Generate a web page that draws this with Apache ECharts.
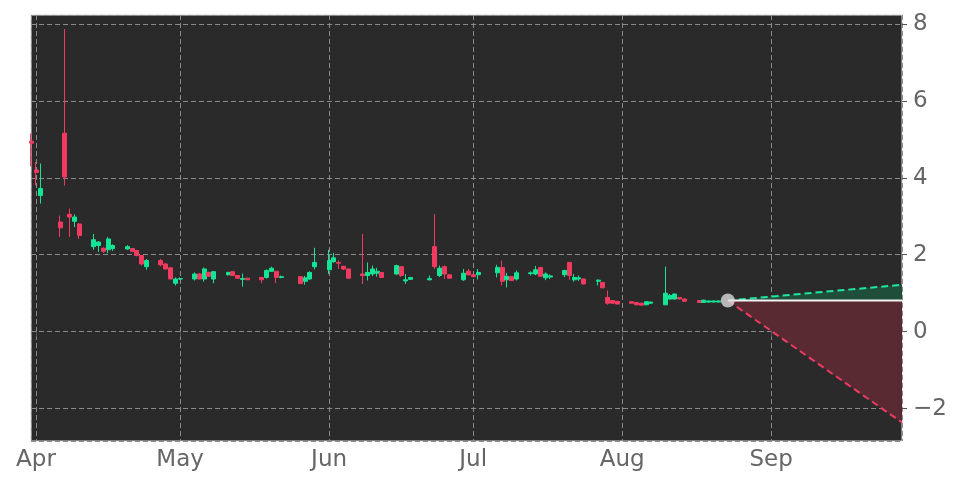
<!DOCTYPE html>
<html>
<head>
<meta charset="utf-8">
<script src="https://cdn.jsdelivr.net/npm/echarts@6/dist/echarts.min.js"></script>
<style>
    html, body {margin: 0; padding: 0; background: #fff;}
    #chart {width: 972px; height: 486px;}
</style>
</head>
<body>
<div id="chart"></div>
<script>
// daily candles
const dates = [
    '2026-03-31', '2026-04-01', '2026-04-02', '2026-04-06', '2026-04-07', '2026-04-08', '2026-04-09', '2026-04-10',
    '2026-04-13', '2026-04-14', '2026-04-15', '2026-04-16', '2026-04-17',
    '2026-04-20', '2026-04-21', '2026-04-22', '2026-04-23', '2026-04-24',
    '2026-04-27', '2026-04-28', '2026-04-29', '2026-04-30', '2026-05-01',
    '2026-05-04', '2026-05-05', '2026-05-06', '2026-05-07', '2026-05-08',
    '2026-05-11', '2026-05-12', '2026-05-13', '2026-05-14', '2026-05-15',
    '2026-05-18', '2026-05-19', '2026-05-20', '2026-05-21', '2026-05-22',
    '2026-05-26', '2026-05-27', '2026-05-28', '2026-05-29',
    '2026-06-01', '2026-06-02', '2026-06-03', '2026-06-04', '2026-06-05',
    '2026-06-08', '2026-06-09', '2026-06-10', '2026-06-11', '2026-06-12',
    '2026-06-15', '2026-06-16', '2026-06-17', '2026-06-18',
    '2026-06-22', '2026-06-23', '2026-06-24', '2026-06-25', '2026-06-26',
    '2026-06-29', '2026-06-30', '2026-07-01', '2026-07-02',
    '2026-07-06', '2026-07-07', '2026-07-08', '2026-07-09', '2026-07-10',
    '2026-07-13', '2026-07-14', '2026-07-15', '2026-07-16', '2026-07-17',
    '2026-07-20', '2026-07-21', '2026-07-22', '2026-07-23', '2026-07-24',
    '2026-07-27', '2026-07-28', '2026-07-29', '2026-07-30', '2026-07-31',
    '2026-08-03', '2026-08-04', '2026-08-05', '2026-08-06', '2026-08-07',
    '2026-08-10', '2026-08-11', '2026-08-12', '2026-08-13', '2026-08-14',
    '2026-08-17', '2026-08-18', '2026-08-19', '2026-08-20', '2026-08-21'
];
const opens = [
    4.95, 4.20, 3.54, 2.85, 5.16, 3.05, 2.87, 2.80,
    2.21, 2.24, 2.17, 2.13, 2.16,
    2.15, 2.16, 2.11, 1.98, 1.69,
    1.85, 1.76, 1.66, 1.26, 1.37,
    1.37, 1.50, 1.37, 1.54, 1.37,
    1.48, 1.56, 1.46, 1.36, 1.39,
    1.41, 1.41, 1.57, 1.57, 1.41,
    1.43, 1.31, 1.37, 1.69,
    1.61, 1.82, 1.80, 1.70, 1.63,
    1.50, 1.46, 1.50, 1.52, 1.54,
    1.50, 1.69, 1.32, 1.36,
    1.35, 2.21, 1.46, 1.69, 1.48,
    1.35, 1.57, 1.48, 1.48,
    1.53, 1.67, 1.35, 1.43, 1.37,
    1.51, 1.50, 1.67, 1.40, 1.42,
    1.48, 1.80, 1.35, 1.37, 1.37,
    1.31, 1.28, 0.89, 0.81, 0.79,
    0.78, 0.76, 0.74, 0.70, 0.74,
    0.70, 0.85, 0.85, 0.89, 0.85,
    0.81, 0.76, 0.77, 0.77, 0.77
];
const closes = [
    4.90, 4.14, 3.72, 2.70, 4.02, 2.98, 2.98, 2.50,
    2.39, 2.33, 2.09, 2.41, 2.24,
    2.21, 2.09, 1.98, 1.76, 1.85,
    1.74, 1.63, 1.37, 1.37, 1.38,
    1.50, 1.37, 1.63, 1.44, 1.56,
    1.54, 1.46, 1.39, 1.38, 1.35,
    1.35, 1.59, 1.65, 1.41, 1.43,
    1.25, 1.40, 1.54, 1.80,
    1.85, 1.92, 1.78, 1.63, 1.39,
    1.46, 1.54, 1.63, 1.57, 1.41,
    1.72, 1.46, 1.35, 1.41,
    1.38, 1.69, 1.65, 1.50, 1.39,
    1.52, 1.48, 1.43, 1.54,
    1.67, 1.31, 1.44, 1.33, 1.53,
    1.53, 1.61, 1.44, 1.50, 1.45,
    1.59, 1.46, 1.41, 1.40, 1.24,
    1.34, 1.14, 0.74, 0.74, 0.72,
    0.74, 0.70, 0.69, 0.78, 0.77,
    1.00, 0.94, 0.98, 0.85, 0.79,
    0.76, 0.82, 0.80, 0.80, 0.80
];
const lows = [
    4.30, 3.80, 3.33, 2.46, 3.80, 2.46, 2.72, 2.41,
    2.13, 2.07, 2.05, 2.04, 2.10,
    2.13, 2.07, 1.96, 1.72, 1.61,
    1.70, 1.62, 1.36, 1.20, 1.35,
    1.33, 1.36, 1.30, 1.42, 1.26,
    1.46, 1.45, 1.38, 1.17, 1.34,
    1.26, 1.38, 1.55, 1.26, 1.39,
    1.24, 1.22, 1.35, 1.62,
    1.50, 1.79, 1.63, 1.60, 1.38,
    1.24, 1.33, 1.45, 1.43, 1.40,
    1.48, 1.43, 1.24, 1.35,
    1.33, 1.63, 1.42, 1.37, 1.38,
    1.32, 1.46, 1.42, 1.36,
    1.41, 1.20, 1.15, 1.32, 1.33,
    1.46, 1.47, 1.43, 1.34, 1.37,
    1.42, 1.35, 1.30, 1.32, 1.23,
    1.20, 1.13, 0.70, 0.73, 0.71,
    0.73, 0.69, 0.68, 0.69, 0.73,
    0.69, 0.83, 0.84, 0.84, 0.78,
    0.75, 0.75, 0.76, 0.76, 0.76
];
const highs = [
    5.15, 4.41, 4.37, 3.02, 7.86, 3.20, 3.05, 2.82,
    2.54, 2.35, 2.19, 2.46, 2.27,
    2.25, 2.17, 2.12, 1.99, 1.89,
    1.89, 1.78, 1.67, 1.41, 1.41,
    1.54, 1.52, 1.67, 1.56, 1.58,
    1.56, 1.58, 1.47, 1.51, 1.40,
    1.42, 1.62, 1.69, 1.58, 1.46,
    1.44, 1.45, 1.57, 2.18,
    2.13, 2.05, 1.85, 1.71, 1.64,
    2.54, 1.80, 1.72, 1.66, 1.55,
    1.74, 1.70, 1.50, 1.42,
    1.46, 3.06, 1.72, 1.72, 1.49,
    1.63, 1.63, 1.49, 1.63,
    1.74, 1.85, 1.53, 1.44, 1.59,
    1.57, 1.71, 1.68, 1.54, 1.49,
    1.61, 1.81, 1.50, 1.46, 1.38,
    1.36, 1.29, 1.07, 0.82, 0.80,
    0.79, 0.77, 0.75, 0.79, 0.78,
    1.69, 0.98, 0.99, 0.90, 0.86,
    0.82, 0.83, 0.81, 0.81, 0.81
];

// forecast cone
const forecastDates = ['2026-08-23', '2026-09-28T06:00'];
const forecastMid = [0.81, 0.81];
const forecastUpper = [0.81, 1.22];
const forecastLower = [0.81, -2.36];

const upColor = '#14e495';
const downColor = '#f23a60';

var chartDom = document.getElementById('chart');
var myChart = echarts.init(chartDom);

const candles = dates.map((d, i) => [d, opens[i], closes[i], lows[i], highs[i]]);
const pairUp = (vals) => forecastDates.map((d, i) => [d, vals[i]]);

const monthNames = ['Jan', 'Feb', 'Mar', 'Apr', 'May', 'Jun', 'Jul', 'Aug', 'Sep', 'Oct', 'Nov', 'Dec'];
const DAY = 24 * 3600 * 1000;

var option = {
    animation: false,
    backgroundColor: '#ffffff',
    textStyle: {fontFamily: 'DejaVu Sans'},
    grid: {
        left: 31,
        right: 70,
        top: 15,
        bottom: 45,
        show: true,
        backgroundColor: '#2a2a2a',
        borderColor: '#d8d8d8',
        borderWidth: 1
    },
    xAxis: {
        type: 'time',
        min: '2026-03-30T23:00',
        max: '2026-09-28T06:00',
        minInterval: 28 * DAY,
        maxInterval: 31 * DAY,
        axisLine: {show: false},
        axisTick: {show: true, length: 5, lineStyle: {color: '#555'}},
        axisLabel: {
            fontSize: 23,
            color: '#666',
            margin: 8,
            hideOverlap: false,
            formatter: function (value) {
                return monthNames[new Date(value).getMonth()];
            }
        },
        splitLine: {show: true, lineStyle: {color: '#8c8c8c', type: [5, 3], width: 1}}
    },
    yAxis: {
        type: 'value',
        position: 'right',
        min: -2.84,
        max: 8.23,
        splitNumber: 5,
        axisLine: {show: false},
        axisTick: {show: true, length: 5, lineStyle: {color: '#555'}},
        axisLabel: {
            fontSize: 23,
            color: '#666',
            margin: 11,
            showMinLabel: false,
            showMaxLabel: false,
            formatter: function (value) {
                if (Math.abs(value - Math.round(value)) > 1e-6) return '';
                return String(value).replace('-', '\u2212');
            }
        },
        splitLine: {show: true, lineStyle: {color: '#8c8c8c', type: [5, 3], width: 1}}
    },
    series: [
        {
            name: 'upper band',
            type: 'line',
            data: pairUp(forecastUpper),
            symbol: 'none',
            lineStyle: {color: '#1fe6a0', width: 2, type: [7, 4]},
            areaStyle: {origin: 0.81, color: '#1f4f3b', opacity: 1},
            z: 2
        },
        {
            name: 'lower band',
            type: 'line',
            data: pairUp(forecastLower),
            symbol: 'none',
            lineStyle: {color: '#ee3b62', width: 2, type: [7, 4]},
            areaStyle: {origin: 0.81, color: '#5a2a33', opacity: 1},
            z: 2
        },
        {
            name: 'mid',
            type: 'line',
            data: pairUp(forecastMid),
            symbol: 'none',
            lineStyle: {color: '#f2f2f2', width: 2},
            z: 3
        },
        {
            name: 'price',
            type: 'candlestick',
            data: candles,
            encode: {x: 0, y: [1, 2, 3, 4]},
            barWidth: 4.5,
            itemStyle: {
                color: upColor,
                color0: downColor,
                borderColor: upColor,
                borderColor0: downColor,
                borderWidth: 1
            },
            z: 4
        },
        {
            name: 'last',
            type: 'scatter',
            data: [[forecastDates[0], forecastMid[0]]],
            symbolSize: 14,
            itemStyle: {color: '#d9d9d9'},
            z: 5
        }
    ]
};

myChart.setOption(option);
</script>
</body>
</html>
